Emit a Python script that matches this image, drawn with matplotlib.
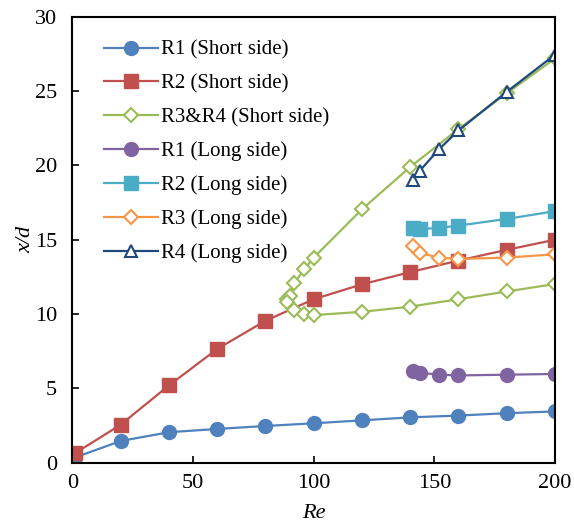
import matplotlib.pyplot as plt

plt.rcParams['font.family'] = ['Liberation Serif', 'DejaVu Serif']

# Short side
re_r1_s = [1, 20, 40, 60, 80, 100, 120, 140, 160, 180, 200]
xd_r1_s = [0.35, 1.46, 2.05, 2.27, 2.47, 2.65, 2.85, 3.05, 3.17, 3.33, 3.45]

re_r2_s = [1, 20, 40, 60, 80, 100, 120, 140, 160, 180, 200]
xd_r2_s = [0.63, 2.56, 5.2, 7.65, 9.55, 11.0, 12.0, 12.82, 13.6, 14.32, 15.0]

# R3&R4 short side: upper and lower branches
re_r34_up = [89, 90, 92, 96, 100, 120, 140, 160, 180, 200]
xd_r34_up = [11.0, 11.2, 12.1, 13.0, 13.8, 17.05, 19.9, 22.45, 24.85, 27.2]
re_r34_lo = [89, 92, 96, 100, 120, 140, 160, 180, 200]
xd_r34_lo = [10.8, 10.25, 9.97, 9.93, 10.15, 10.5, 11.0, 11.52, 12.02]

# Long side
re_long = [141, 144, 152, 160, 180, 200]
xd_r1_l = [6.2, 6.05, 5.92, 5.87, 5.92, 5.97]
xd_r2_l = [15.82, 15.72, 15.8, 15.95, 16.4, 16.92]
xd_r3_l = [14.55, 14.1, 13.8, 13.7, 13.8, 14.02]
xd_r4_l = [19.0, 19.65, 21.1, 22.35, 24.95, 27.45]

fig = plt.figure(figsize=(5.74, 5.24), dpi=100)
ax = fig.add_axes([0.1263, 0.117, 0.8406, 0.851])

lw = 1.6
ax.plot(re_r1_s, xd_r1_s, '-o', color='#4F81BD', lw=lw, ms=10, label='R1 (Short side)')
ax.plot(re_r2_s, xd_r2_s, '-s', color='#C0504D', lw=lw, ms=9.5, label='R2 (Short side)')
ax.plot(re_r34_up, xd_r34_up, '-D', color='#9BBB59', lw=lw, ms=7.5, mfc='white',
        mew=1.5, label='R3&R4 (Short side)')
ax.plot(re_r34_lo, xd_r34_lo, '-D', color='#9BBB59', lw=lw, ms=7.5, mfc='white', mew=1.5)
ax.plot(re_long, xd_r1_l, '-o', color='#8064A2', lw=lw, ms=10, label='R1 (Long side)')
ax.plot(re_long, xd_r2_l, '-s', color='#4BACC6', lw=lw, ms=9.5, label='R2 (Long side)')
ax.plot(re_long, xd_r3_l, '-D', color='#F79646', lw=lw, ms=7.5, mfc='white',
        mew=1.5, label='R3 (Long side)')
ax.plot(re_long, xd_r4_l, '-^', color='#1F497D', lw=lw, ms=9, mfc='white',
        mew=1.5, label='R4 (Long side)')

ax.set_xlim(0, 200)
ax.set_ylim(0, 30)
ax.set_xticks([0, 50, 100, 150, 200])
ax.set_yticks([0, 5, 10, 15, 20, 25, 30])
ax.tick_params(direction='in', labelsize=16, length=5, width=1.2, top=False, right=False)
ax.tick_params(axis='x', pad=8)
ax.tick_params(axis='y', pad=11)
for s in ax.spines.values():
    s.set_linewidth(1.5)

ax.set_xlabel('Re', fontsize=16, style='italic', labelpad=8)
ax.set_ylabel('x/d', fontsize=16, style='italic', labelpad=0)

ax.legend(loc='upper left', frameon=False, fontsize=15, handlelength=2.6,
          labelspacing=0.68, borderaxespad=0, handletextpad=0.15,
          bbox_to_anchor=(0.047, 0.966))

fig.savefig('out.png', dpi=100)
